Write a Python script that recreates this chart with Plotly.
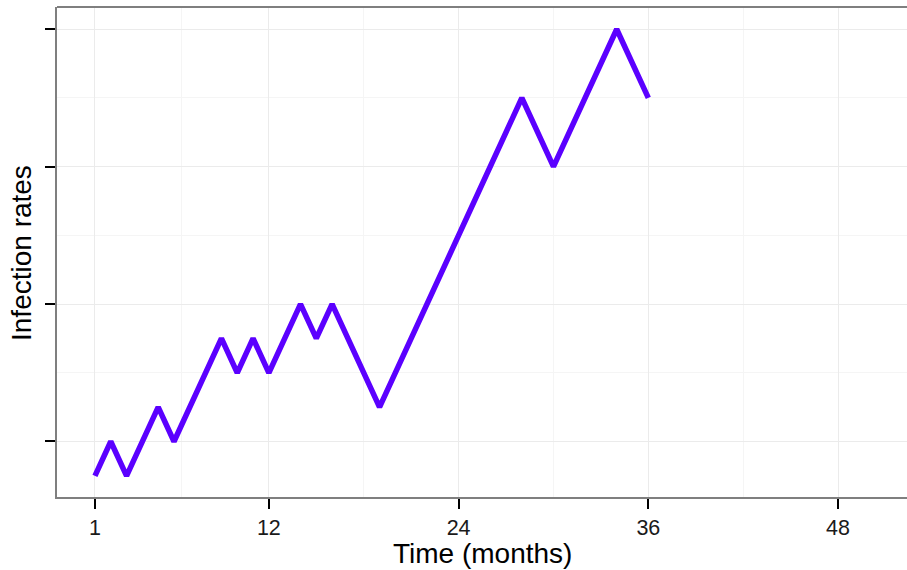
import plotly.graph_objects as go

months = [1, 2, 3, 5, 6, 9, 10, 11, 12, 14, 15, 16, 19, 28, 30, 34, 36]
rates = [0.75, 1.0, 0.75, 1.25, 1.0, 1.75, 1.5, 1.75, 1.5, 2.0, 1.75, 2.0, 1.25, 3.5, 3.0, 4.0, 3.5]

x_ticks = [1, 12, 24, 36, 48]
x_tick_labels = ["1", "12", "24", "36", "48"]
x_minor = [6.5, 18, 30, 42]
y_ticks = [1, 2, 3, 4]
y_minor = [1.5, 2.5, 3.5]

W, H = 907, 570
ML, MR, MT, MB = 57, 0, 7, 73

fig = go.Figure()
fig.add_trace(go.Scatter(x=months, y=rates, mode="lines",
                         line=dict(color="#5B00FF", width=5.5),
                         hoverinfo="skip"))

font = "Liberation Sans, Arial, sans-serif"
plot_w = W - ML - MR
plot_h = H - MT - MB
fig.update_layout(
    width=W, height=H,
    margin=dict(l=ML, r=MR, t=MT, b=MB),
    paper_bgcolor="white", plot_bgcolor="white",
    showlegend=False,
    font=dict(family=font, color="black"),
    xaxis=dict(range=[-1.40, 52.36], tickvals=x_ticks, ticktext=x_tick_labels,
               showgrid=True, gridcolor="#EBEBEB", gridwidth=1.2,
               minor=dict(tickvals=x_minor, showgrid=True, gridcolor="#F5F5F5", gridwidth=1),
               ticks="outside", ticklen=10, tickwidth=2, tickcolor="black",
               showline=True, linecolor="#7F7F7F", linewidth=2,
               zeroline=False, tickfont=dict(size=21.5, family=font, color="#1a1a1a")),
    yaxis=dict(range=[0.596, 4.162], tickvals=y_ticks, ticktext=["", "", "", ""],
               showgrid=True, gridcolor="#EBEBEB", gridwidth=1.2,
               minor=dict(tickvals=y_minor, showgrid=True, gridcolor="#F5F5F5", gridwidth=1),
               ticks="outside", ticklen=10, tickwidth=2, tickcolor="black",
               showline=True, linecolor="#7F7F7F", linewidth=2,
               zeroline=False),
    shapes=[dict(type="line", xref="paper", yref="paper", x0=0, x1=1, y0=1, y1=1,
                 line=dict(color="#7F7F7F", width=2))],
    annotations=[
        dict(text="Time (months)", x=(482 - ML) / plot_w, xref="paper",
             y=(H - MB - 553) / plot_h, yref="paper", yanchor="middle", xanchor="center",
             showarrow=False, font=dict(size=28, family=font, color="black")),
        dict(text="Infection rates", x=(21 - ML) / plot_w, y=(H - MB - 253) / plot_h,
             xref="paper", yref="paper", xanchor="center", yanchor="middle",
             textangle=-90, showarrow=False, font=dict(size=28, family=font, color="black")),
    ],
)

fig.write_html("out.html", config={"displayModeBar": False},
               post_script="document.body.style.margin='0';document.body.style.padding='0';")
